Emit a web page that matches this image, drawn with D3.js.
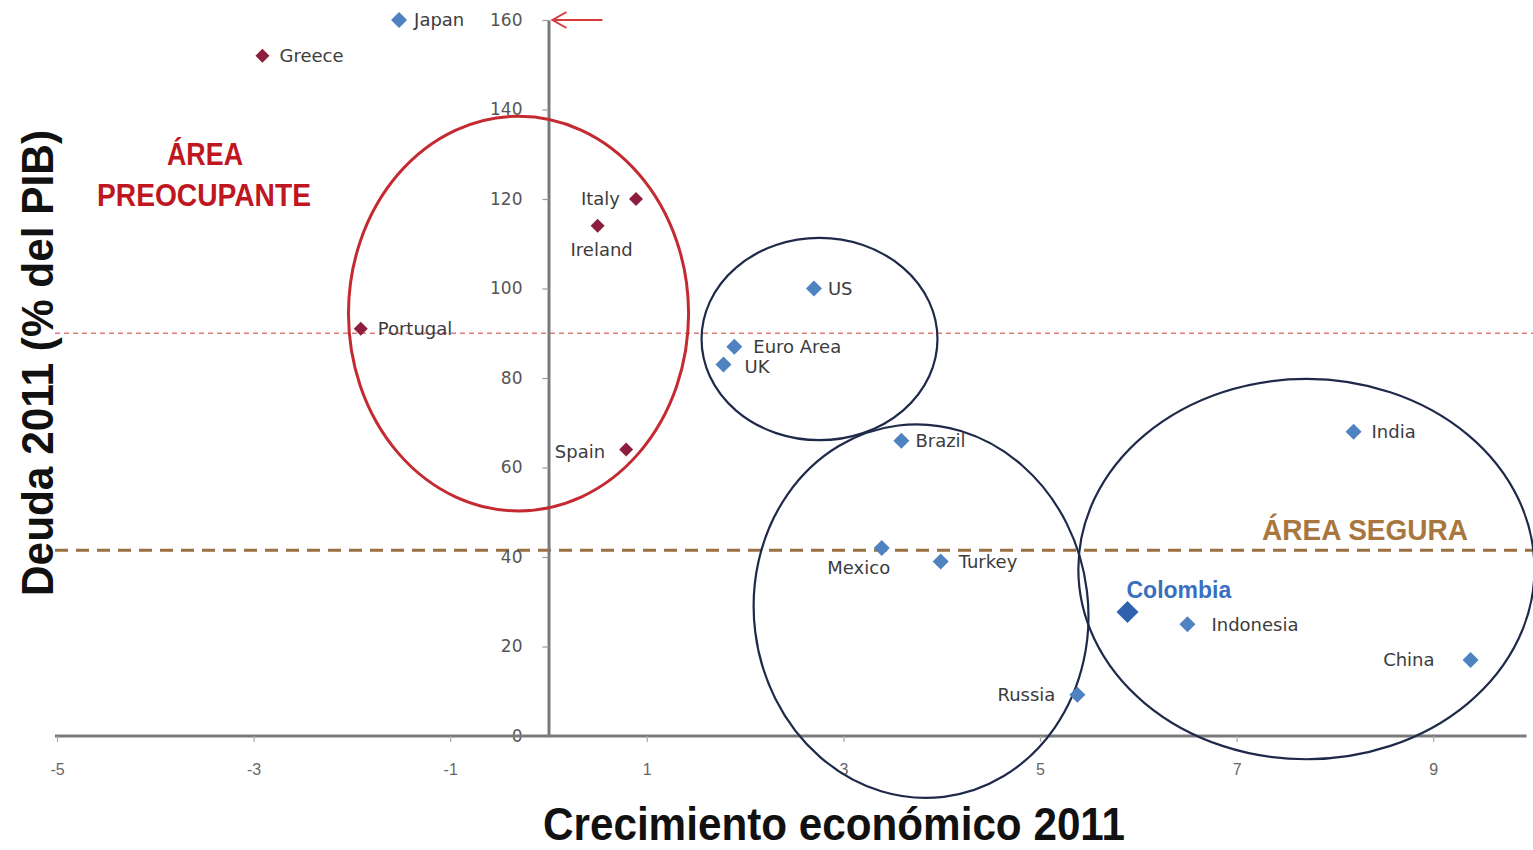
<!DOCTYPE html>
<html>
<head>
<meta charset="utf-8">
<script src="https://cdn.jsdelivr.net/npm/d3@7"></script>
<style>
  html, body { margin: 0; padding: 0; background: #fff; }
  svg { display: block; }
</style>
</head>
<body>
<svg id="chart" width="1533" height="850"></svg>
<script>
// ---- data ----
const countries = ["Japan","Greece","Italy","Ireland","Portugal","Spain","US","Euro Area","UK","Brazil","Mexico","Turkey","Russia","Colombia","Indonesia","India","China"];
const growth    = [-1.52, -2.91, 0.89, 0.50, -1.91, 0.79, 2.70, 1.89, 1.78, 3.59, 3.39, 3.99, 5.38, 5.89, 6.50, 8.19, 9.38];
const debt      = [160, 152, 120, 114, 91, 64, 100, 87, 83, 66, 42, 39, 9.2, 27.7, 25, 68, 17];
const group     = ["safe","risk","risk","risk","risk","risk","safe","safe","safe","safe","safe","safe","safe","focus","safe","safe","safe"];
const xTicks = [-5, -3, -1, 1, 3, 5, 7, 9];
const yTicks = [0, 20, 40, 60, 80, 100, 120, 140, 160];
const debtThresholds = [90, 41.5];
// ellipses in data units
const ellipseCx = [-0.305, 2.757, 3.79, 7.71];
const ellipseCy = [94.4, 88.7, 27.9, 37.3];
const ellipseRx = [1.73, 1.20, 1.70, 2.32];
const ellipseRy = [44.1, 22.6, 41.8, 42.5];
const ellipseRot = [0, 0, -7, 0];
const ellipseKind = ["risk","safe","safe","safe"];

// ---- label placement (styling, not data) ----
const labelPlace = {
  "Japan":[15,0,"start"], "Greece":[17,0,"start"], "Italy":[-16,0,"end"],
  "Ireland":[4,24,"middle"], "Portugal":[17,0,"start"], "Spain":[-21,2,"end"],
  "US":[14,0,"start"], "Euro Area":[19,0,"start"], "UK":[21,2,"start"],
  "Brazil":[14,0,"start"], "Mexico":[-23,19,"middle"], "Turkey":[18,0,"start"],
  "Russia":[-22,0,"end"], "Colombia":[-1,-22,"start"], "Indonesia":[24,0,"start"],
  "India":[18,0,"start"], "China":[-36,0,"end"]
};

const svg = d3.select("#chart");
const x = d3.scaleLinear().domain([-5, 10]).range([57, 1531.5]);
const y = d3.scaleLinear().domain([0, 160]).range([736, 20]);

// threshold lines
svg.append("line")
  .attr("x1", 55).attr("x2", 1533)
  .attr("y1", y(debtThresholds[0])).attr("y2", y(debtThresholds[0]))
  .attr("stroke", "#e07a7a").attr("stroke-width", 1.3).attr("stroke-dasharray", "5,4");
svg.append("line")
  .attr("x1", 55).attr("x2", 1533)
  .attr("y1", y(debtThresholds[1])).attr("y2", y(debtThresholds[1]))
  .attr("stroke", "#9b7040").attr("stroke-width", 3).attr("stroke-dasharray", "13,8");

// axes
const yAxis = d3.axisLeft(y).tickValues(yTicks).tickSize(6).tickPadding(20).tickSizeOuter(0);
const gy = svg.append("g").attr("transform", `translate(${x(0)},0)`).call(yAxis);
gy.select(".domain").attr("stroke", "#7a7a7a").attr("stroke-width", 3);
gy.selectAll(".tick line").attr("stroke", "#999").attr("stroke-width", 1.2);
gy.selectAll(".tick text").attr("font-family", "DejaVu Sans, sans-serif").attr("font-size", 17).attr("fill", "#555");

const xAxis = d3.axisBottom(x).tickValues(xTicks).tickSize(6).tickPadding(22).tickSizeOuter(0).tickFormat(d => String(d));
const gx = svg.append("g").attr("transform", `translate(0,${y(0)})`).call(xAxis);
gx.select(".domain").attr("stroke", "#7a7a7a").attr("stroke-width", 3).attr("d", `M${x(-5)-2},0H${x(10)-5}`);
gx.selectAll(".tick line").attr("stroke", "#aaa").attr("stroke-width", 1.2);
gx.selectAll(".tick text").attr("font-family", "Liberation Sans, Arial, sans-serif").attr("font-size", 16).attr("fill", "#666");

// red arrow at top
const ay = y(160);
svg.append("path")
  .attr("d", `M${x(0)+54},${ay} L${x(0)+4},${ay} M${x(0)+18},${ay-8} L${x(0)+4},${ay} L${x(0)+18},${ay+8}`)
  .attr("fill", "none").attr("stroke", "#d63a3a").attr("stroke-width", 2);

// ellipses
const kx = x(1) - x(0), ky = y(0) - y(1);
ellipseCx.forEach((cx, i) => {
  svg.append("ellipse")
    .attr("transform", `translate(${x(cx)},${y(ellipseCy[i])}) rotate(${ellipseRot[i]})`)
    .attr("rx", ellipseRx[i] * kx).attr("ry", ellipseRy[i] * ky)
    .attr("fill", "none")
    .attr("stroke", ellipseKind[i] === "risk" ? "#c42a32" : "#1f2a4a")
    .attr("stroke-width", ellipseKind[i] === "risk" ? 3 : 2.2);
});

// points
const pts = countries.map((c, i) => ({name: c, gx: growth[i], dy: debt[i], g: group[i]}));
const diamond = (s) => `M0,${-s}L${s},0L0,${s}L${-s},0Z`;
svg.append("g").selectAll("path").data(pts).join("path")
  .attr("transform", d => `translate(${x(d.gx)},${y(d.dy)})`)
  .attr("d", d => diamond(d.g === "focus" ? 11 : (d.g === "risk" ? 7 : 8)))
  .attr("fill", d => d.g === "risk" ? "#8e1e3e" : (d.g === "focus" ? "#2e62ae" : "#4f82c0"));

// labels
svg.append("g").selectAll("text").data(pts).join("text")
  .attr("x", d => x(d.gx) + labelPlace[d.name][0])
  .attr("y", d => y(d.dy) + labelPlace[d.name][1])
  .attr("dy", "0.36em")
  .attr("text-anchor", d => labelPlace[d.name][2])
  .attr("font-family", d => d.g === "focus" ? "Liberation Sans, Arial, sans-serif" : "DejaVu Sans, sans-serif")
  .attr("font-weight", d => d.g === "focus" ? "bold" : "normal")
  .attr("font-size", d => d.g === "focus" ? 23 : 18)
  .attr("fill", d => d.g === "focus" ? "#3a6fc0" : "#3c3c3c")
  .text(d => d.name);

// area annotations
const areaFont = "Liberation Sans, Arial, sans-serif";
svg.append("text").attr("x", 205).attr("y", 165).attr("text-anchor", "middle")
  .attr("font-family", areaFont).attr("font-weight", "bold").attr("font-size", 31)
  .attr("textLength", 76).attr("lengthAdjust", "spacingAndGlyphs")
  .attr("fill", "#c0161f").text("ÁREA");
svg.append("text").attr("x", 204).attr("y", 206).attr("text-anchor", "middle")
  .attr("font-family", areaFont).attr("font-weight", "bold").attr("font-size", 31)
  .attr("textLength", 214).attr("lengthAdjust", "spacingAndGlyphs")
  .attr("fill", "#c0161f").text("PREOCUPANTE");
svg.append("text").attr("x", 1365).attr("y", 540).attr("text-anchor", "middle")
  .attr("font-family", areaFont).attr("font-weight", "bold").attr("font-size", 30)
  .attr("textLength", 206).attr("lengthAdjust", "spacingAndGlyphs")
  .attr("fill", "#a8773f").text("ÁREA SEGURA");

// axis titles
svg.append("text").attr("x", 834).attr("y", 840).attr("text-anchor", "middle")
  .attr("font-family", areaFont).attr("font-weight", "bold").attr("font-size", 46)
  .attr("textLength", 582).attr("lengthAdjust", "spacingAndGlyphs")
  .attr("fill", "#111").text("Crecimiento económico 2011");
svg.append("text").attr("transform", "translate(53,363) rotate(-90)").attr("text-anchor", "middle")
  .attr("font-family", areaFont).attr("font-weight", "bold").attr("font-size", 44)
  .attr("textLength", 466).attr("lengthAdjust", "spacingAndGlyphs")
  .attr("fill", "#111").text("Deuda 2011 (% del PIB)");
</script>
</body>
</html>
